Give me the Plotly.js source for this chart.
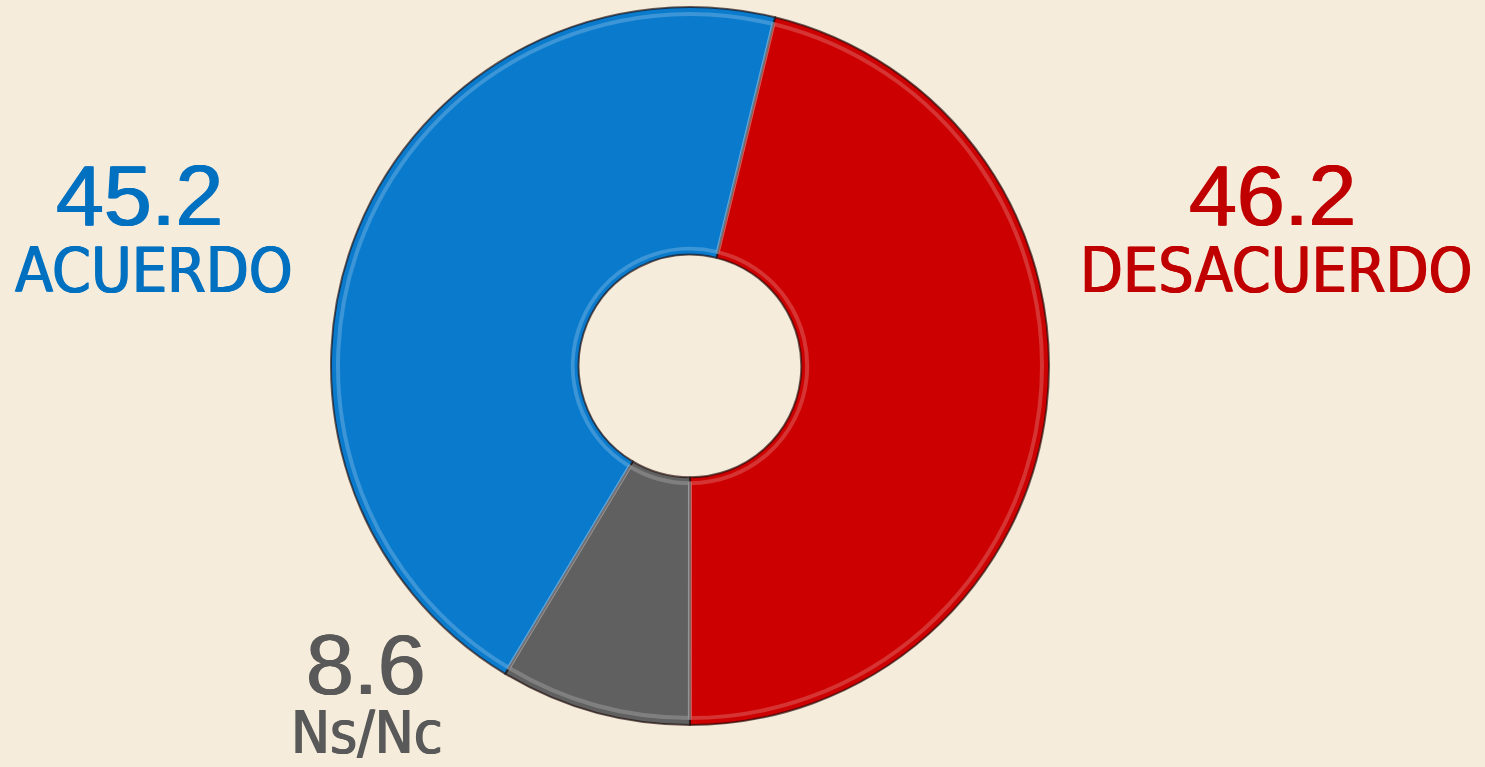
<!DOCTYPE html>
<html>
<head>
<meta charset="utf-8">
<script src="https://cdn.plot.ly/plotly-3.0.1.min.js"></script>
<style>html,body{margin:0;padding:0;background:#F6ECDB;}#chart{width:1485px;height:767px;}</style>
</head>
<body>
<div id="chart"></div>
<script>
var categories = ["DESACUERDO", "Ns/Nc", "ACUERDO"];
var values = [46.2, 8.6, 45.2];
var sliceColors = ["#CC0000", "#606060", "#0A7BCC"];
var textColors = ["#C00000", "#595959", "#0070C0"];

var W = 1485, H = 767;
function px(x){return x/W;}
function py(y){return 1 - y/H;}

var cx = 690, cyb = 401, R = 359;
var trace = {
  type: "pie",
  labels: categories,
  values: values,
  sort: false,
  direction: "clockwise",
  rotation: 13.7,
  hole: 0.31,
  textinfo: "none",
  hoverinfo: "label+value",
  marker: {colors: sliceColors, line: {color: "rgba(30,10,10,0.65)", width: 2}},
  domain: {x: [(cx-R)/W, (cx+R)/W], y: [(cyb-R)/H, (cyb+R)/H]},
  showlegend: false
};
// soft highlight rim (bevel impression)
var r2 = R - 7;
var rim = {
  type: "pie",
  labels: categories,
  values: values,
  sort: false,
  direction: "clockwise",
  rotation: 13.7,
  hole: 0.333,
  textinfo: "none",
  hoverinfo: "skip",
  marker: {colors: ["rgba(0,0,0,0)","rgba(0,0,0,0)","rgba(0,0,0,0)"], line: {color: "rgba(255,255,255,0.2)", width: 4}},
  domain: {x: [(cx-r2)/W, (cx+r2)/W], y: [(cyb-r2)/H, (cyb+r2)/H]},
  showlegend: false
};

// label positions (pixel centres) and sizes
var pos = {
  "DESACUERDO": {num:[1272,195], lab:[1276,270], size:62},
  "Ns/Nc": {num:[366,664], lab:[367,733], size:58},
  "ACUERDO": {num:[139,195], lab:[154,270], size:62}
};
var numFont = "'Liberation Sans', Arial, sans-serif";
var labFont = "'Liberation Sans Narrow', 'Arial Narrow', 'DejaVu Sans Condensed', sans-serif";
function thick(c){ return "0.8px 0 0 " + c + ", -0.8px 0 0 " + c; }
var annotations = [];
categories.forEach(function(c, i){
  var p = pos[c];
  annotations.push({xref:"paper", yref:"paper", x:px(p.num[0]), y:py(p.num[1]), xanchor:"center", yanchor:"middle",
    text: values[i].toFixed(1), showarrow:false,
    font:{family:numFont, size:86, color:textColors[i], shadow:thick(textColors[i])}});
  annotations.push({xref:"paper", yref:"paper", x:px(p.lab[0]), y:py(p.lab[1]), xanchor:"center", yanchor:"middle",
    text: c, showarrow:false,
    font:{family:labFont, size:p.size, color:textColors[i], shadow:thick(textColors[i])}});
});

var layout = {
  width: W, height: H,
  margin: {l:0, r:0, t:0, b:0},
  paper_bgcolor: "#F6ECDB",
  plot_bgcolor: "#F6ECDB",
  annotations: annotations
};
Plotly.newPlot("chart", [trace, rim], layout, {displayModeBar:false, staticPlot:true});
</script>
</body>
</html>
